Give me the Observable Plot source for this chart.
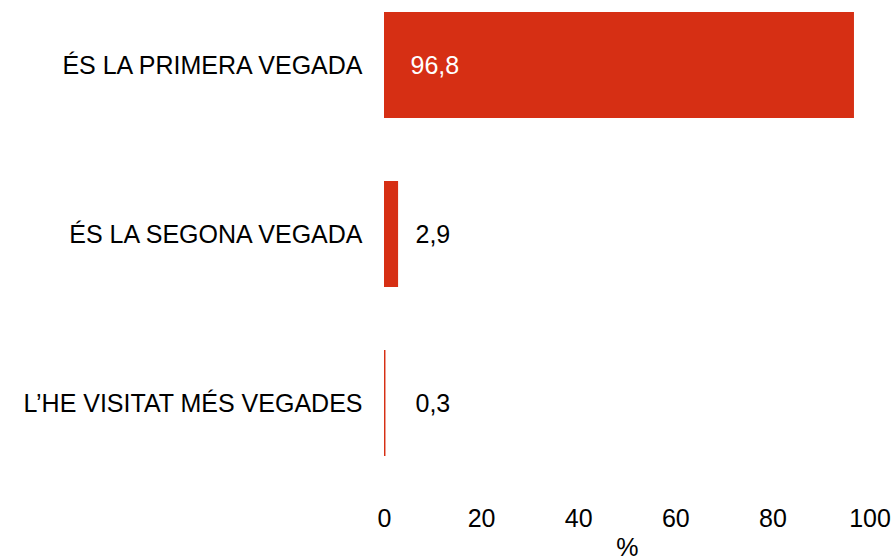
<!DOCTYPE html>
<html>
<head>
<meta charset="utf-8">
<script src="https://cdn.jsdelivr.net/npm/d3@7"></script>
<script src="https://cdn.jsdelivr.net/npm/@observablehq/plot@0.6"></script>
<style>
  html, body { margin: 0; padding: 0; background: #fff; }
</style>
</head>
<body>
<div id="chart"></div>
<script>
const categories = ["ÉS LA PRIMERA VEGADA", "ÉS LA SEGONA VEGADA", "L’HE VISITAT MÉS VEGADES"];
const values = [96.8, 2.9, 0.3];
const xTicks = [0, 20, 40, 60, 80, 100];
const xLabel = "%";

const data = categories.map((c, i) => ({category: c, value: values[i]}));
const fmt = v => v.toFixed(1).replace(".", ",");
const barColor = "#d62f14";

const chart = Plot.plot({
  width: 896,
  height: 559,
  marginTop: 12,
  marginBottom: 103,
  marginLeft: 384,
  marginRight: 26.5,
  style: {fontFamily: "Arial, 'Liberation Sans', sans-serif", fontSize: "25px", color: "#000", background: "#fff"},
  x: {domain: [0, 100], ticks: xTicks, tickSize: 0, tickPadding: 53, label: xLabel, labelAnchor: "center", labelArrow: "none", labelOffset: 99},
  y: {domain: categories, paddingInner: 0.373, paddingOuter: 0, tickSize: 0, tickPadding: 22, label: null},
  marks: [
    Plot.barX(data, {x: "value", y: "category", fill: barColor}),
    Plot.text(data.filter(d => d.value >= 10), {x: 0, y: "category", text: d => fmt(d.value), textAnchor: "start", dx: 26, fill: "#fff", fontSize: 25}),
    Plot.text(data.filter(d => d.value < 10), {x: 0, y: "category", text: d => fmt(d.value), textAnchor: "start", dx: 31, fill: "#000", fontSize: 25})
  ]
});
document.getElementById("chart").appendChild(chart);
</script>
</body>
</html>
